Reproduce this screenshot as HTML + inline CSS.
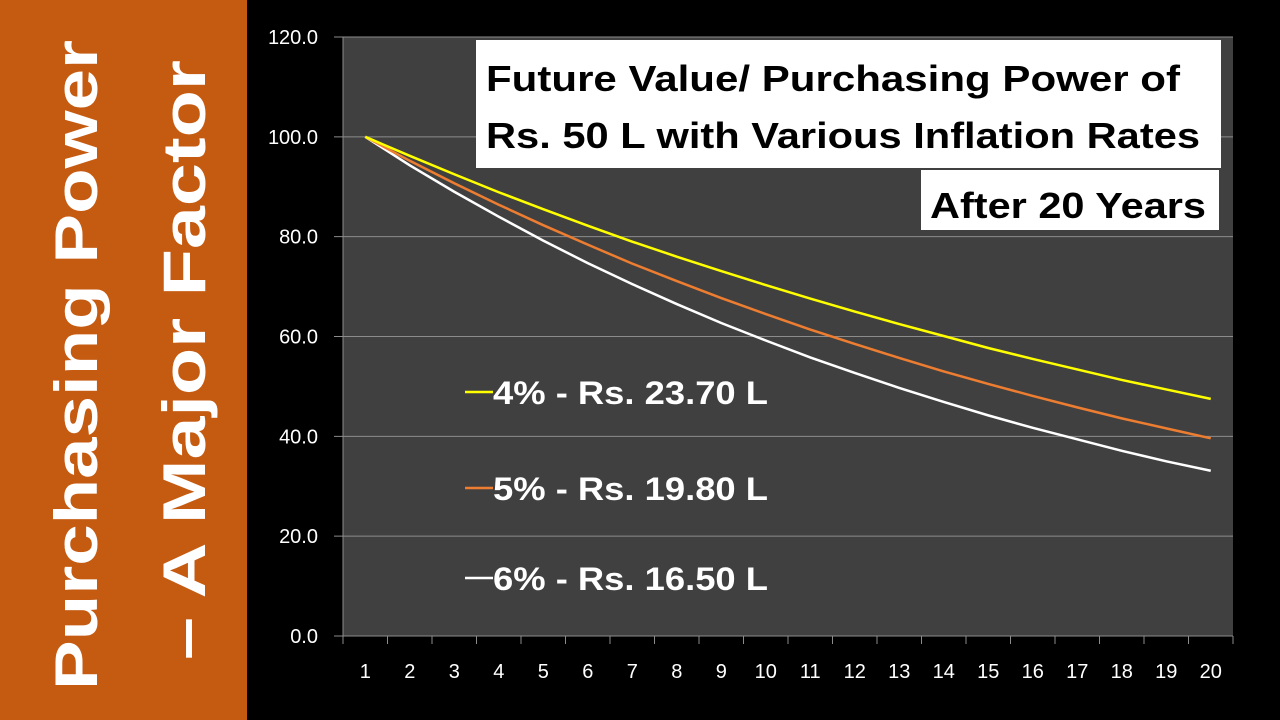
<!DOCTYPE html>
<html><head><meta charset="utf-8"><style>
html,body{margin:0;padding:0;background:#000;width:1280px;height:720px;overflow:hidden}
svg{display:block;font-family:"Liberation Sans",sans-serif}
</style></head><body>
<svg width="1280" height="720">
<rect x="0" y="0" width="1280" height="720" fill="#000"/>
<rect x="0" y="0" width="247" height="720" fill="#C55A11"/>
<text transform="translate(97,365) rotate(-90)" text-anchor="middle" fill="#fff" font-weight="bold" font-size="60" textLength="650" lengthAdjust="spacingAndGlyphs">Purchasing Power</text>
<text transform="translate(205,360) rotate(-90)" text-anchor="middle" fill="#fff" font-weight="bold" font-size="60" textLength="600" lengthAdjust="spacingAndGlyphs">– A Major Factor</text>
<g id="plot"></g>
<rect x="476" y="40" width="745" height="128" fill="#fff"/>
<text x="486" y="91" font-size="36" font-weight="bold" fill="#000" textLength="694" lengthAdjust="spacingAndGlyphs">Future Value/ Purchasing Power of</text>
<text x="486" y="148" font-size="36" font-weight="bold" fill="#000" textLength="714" lengthAdjust="spacingAndGlyphs">Rs. 50 L with Various Inflation Rates</text>
<rect x="921" y="170" width="298" height="60" fill="#fff"/>
<text x="930" y="218" font-size="36" font-weight="bold" fill="#000" textLength="276" lengthAdjust="spacingAndGlyphs">After 20 Years</text>
</svg>
<script>
const categories=[1,2,3,4,5,6,7,8,9,10,11,12,13,14,15,16,17,18,19,20];
const series4=[100,96.2,92.5,88.9,85.5,82.2,79.0,76.0,73.1,70.3,67.6,65.0,62.5,60.1,57.7,55.5,53.4,51.3,49.4,47.5];
const series5=[100,95.2,90.7,86.4,82.3,78.4,74.6,71.1,67.7,64.5,61.4,58.5,55.7,53.0,50.5,48.1,45.8,43.6,41.6,39.6];
const series6=[100,94.3,89.0,84.0,79.2,74.7,70.5,66.5,62.7,59.2,55.8,52.7,49.7,46.9,44.2,41.7,39.4,37.1,35.0,33.1];
const yTicks=[0,20,40,60,80,100,120];
const legendLabels=["4% - Rs. 23.70 L","5% - Rs. 19.80 L","6% - Rs. 16.50 L"];
const NS="http://www.w3.org/2000/svg";
const L=343,R=1233,T=37,B=636,yMax=120;
const bw=(R-L)/categories.length;
const xS=i=>L+bw*(i+0.5);
const yS=v=>B-(v/yMax)*(B-T);
const g=document.getElementById('plot');
function mk(tag,a,p){const e=document.createElementNS(NS,tag);for(const k in a)e.setAttribute(k,a[k]);(p||g).appendChild(e);return e;}
let e=mk('rect',{x:L,y:T,width:R-L,height:B-T,fill:'#404040'});


yTicks.forEach(v=>{
 let l=mk('line',{x1:334,x2:R,y1:yS(v),y2:yS(v),stroke:'#8c8c8c','stroke-width':1});
 
 
 let t=mk('text',{x:318,y:yS(v)+7,'text-anchor':'end',fill:'#fff','font-size':20});
 
 
 t.textContent=v.toFixed(1);
});
let ax=mk('line',{x1:L,x2:L,y1:T,y2:B,stroke:'#8c8c8c'});


for(let i=0;i<=categories.length;i++){
 let tk=mk('line',{x1:L+bw*i,x2:L+bw*i,y1:B,y2:B+8,stroke:'#8c8c8c'});
 
 
}
categories.forEach((c,i)=>{
 let t=mk('text',{x:xS(i),y:678,'text-anchor':'middle',fill:'#fff','font-size':20});
 
 
 t.textContent=c;
});
const sers=[[series6,'#ffffff','line-6pct'],[series5,'#ED7D31','line-5pct'],[series4,'#FFFF00','line-4pct']];
sers.forEach(s=>{
 let p=mk('polyline',{points:s[0].map((v,i)=>xS(i)+','+yS(v)).join(' '),fill:'none',stroke:s[1],'stroke-width':2.5});
 
 
});
const legCols=['#FFFF00','#ED7D31','#ffffff'];
const legY=[392,488,578];
legendLabels.forEach((lab,i)=>{
 let l=mk('line',{x1:465,x2:493,y1:legY[i],y2:legY[i],stroke:legCols[i],'stroke-width':2.5});
 
 
 let t=mk('text',{x:493,y:legY[i]+12,fill:'#fff','font-size':32,'font-weight':'bold',textLength:275,lengthAdjust:'spacingAndGlyphs'});
 
 
 t.textContent=lab;
});
</script>
</body></html>
